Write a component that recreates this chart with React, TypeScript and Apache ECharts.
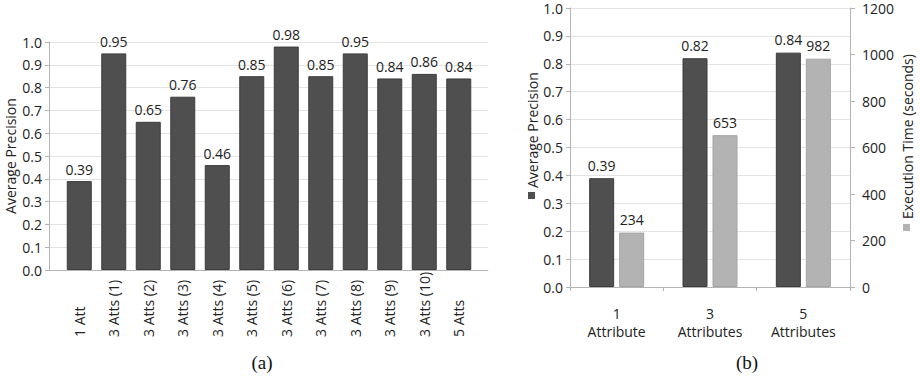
import React, { useEffect, useRef } from 'react';
import * as echarts from 'echarts';

const leftCategories = ['1 Att', '3 Atts (1)', '3 Atts (2)', '3 Atts (3)', '3 Atts (4)', '3 Atts (5)', '3 Atts (6)', '3 Atts (7)', '3 Atts (8)', '3 Atts (9)', '3 Atts (10)', '5 Atts'];
const leftPrecision = [0.39, 0.95, 0.65, 0.76, 0.46, 0.85, 0.98, 0.85, 0.95, 0.84, 0.86, 0.84];

const rightCategories = ['1\nAttribute', '3\nAttributes', '5\nAttributes'];
const rightPrecision = [0.39, 0.82, 0.84];
const rightTime = [234, 653, 982];

const precisionMin = 0;
const precisionMax = 1;
const precisionStep = 0.1;
const timeMin = 0;
const timeMax = 1200;
const timeStep = 200;

const FONT = '"Open Sans", "DejaVu Sans", sans-serif';
const SERIF = '"Liberation Serif", "DejaVu Serif", serif';
const DARK = '#4f4f4f';
const LIGHT = '#b3b3b3';
const AXIS = '#b4b4b4';
const GRID = '#e4e4e4';
const TXT = '#222222';

export default function App() {
  const ref = useRef<HTMLDivElement>(null);
  useEffect(() => {
    if (!ref.current) return;
    const chart = echarts.init(ref.current, undefined, { renderer: 'svg' });
    const valueLabel = { show: true, position: 'top', distance: 5, fontSize: 14, color: TXT, fontFamily: FONT };
    const vTitle = (text: string, x: number, yBottom: number) => ({
      type: 'text', x, y: yBottom, rotation: Math.PI / 2,
      style: { text, font: '14px "Open Sans", sans-serif', fill: TXT, align: 'left', verticalAlign: 'middle' },
    });
    chart.setOption({
      animation: false,
      backgroundColor: '#ffffff',
      textStyle: { fontFamily: FONT },
      grid: [
        { left: 49, top: 42, width: 439, height: 228 },
        { left: 62, top: 42, width: 414, height: 228 },
        { left: 570, top: 8, width: 280, height: 279 },
      ],
      xAxis: [
        {
          gridIndex: 0, type: 'category', data: leftCategories,
          axisLine: { show: true, lineStyle: { color: AXIS } },
          axisTick: { show: false }, axisLabel: { show: false }, splitLine: { show: false },
        },
        {
          gridIndex: 1, type: 'category', data: leftCategories,
          axisLine: { show: false }, axisTick: { show: false },
          axisLabel: { rotate: 90, align: 'left', margin: 67, fontSize: 14, color: TXT, fontFamily: FONT, interval: 0 },
        },
        {
          gridIndex: 2, type: 'category', data: rightCategories,
          axisLine: { show: true, lineStyle: { color: AXIS } },
          axisTick: { show: true, length: 4, lineStyle: { color: AXIS } },
          axisLabel: { margin: 17, fontSize: 14, lineHeight: 18, color: TXT, fontFamily: FONT, interval: 0 },
        },
      ],
      yAxis: [
        {
          gridIndex: 0, type: 'value', min: precisionMin, max: precisionMax, interval: precisionStep,
          name: 'Average Precision', nameLocation: 'middle', nameRotate: 90, nameGap: 32,
          nameTextStyle: { fontSize: 14, color: TXT, fontFamily: FONT },
          axisLine: { show: true, lineStyle: { color: AXIS } },
          axisTick: { show: true, length: 4, lineStyle: { color: AXIS } },
          axisLabel: { formatter: (v: number) => v.toFixed(1), fontSize: 14, color: TXT, margin: 7, fontFamily: FONT },
          splitLine: { show: true, lineStyle: { color: GRID } },
        },
        { gridIndex: 1, type: 'value', min: precisionMin, max: precisionMax, show: false },
        {
          gridIndex: 2, type: 'value', min: precisionMin, max: precisionMax, interval: precisionStep,
          axisLine: { show: true, lineStyle: { color: AXIS } },
          axisTick: { show: true, length: 4, lineStyle: { color: AXIS } },
          axisLabel: { formatter: (v: number) => v.toFixed(1), fontSize: 14, color: TXT, margin: 7, fontFamily: FONT },
          splitLine: { show: true, lineStyle: { color: GRID } },
        },
        {
          gridIndex: 2, type: 'value', position: 'right', min: timeMin, max: timeMax, interval: timeStep,
          axisLine: { show: true, lineStyle: { color: AXIS } },
          axisTick: { show: true, length: 5, lineStyle: { color: AXIS } },
          axisLabel: { formatter: (v: number) => String(v), fontSize: 14, color: TXT, margin: 12, fontFamily: FONT },
          splitLine: { show: false },
        },
      ],
      series: [
        {
          type: 'bar', xAxisIndex: 1, yAxisIndex: 1, data: leftPrecision, barWidth: 25,
          itemStyle: { color: DARK, borderColor: '#3c3c3c', borderWidth: 1 },
          label: { ...valueLabel, formatter: (p: any) => Number(p.value).toFixed(2) },
        },
        {
          type: 'bar', xAxisIndex: 2, yAxisIndex: 2, data: rightPrecision, barWidth: 25, barGap: '20%',
          itemStyle: { color: DARK, borderColor: '#3c3c3c', borderWidth: 1 },
          label: { ...valueLabel, distance: 6, formatter: (p: any) => Number(p.value).toFixed(2) },
        },
        {
          type: 'bar', xAxisIndex: 2, yAxisIndex: 3, data: rightTime, barWidth: 25, barGap: '20%',
          itemStyle: { color: LIGHT, borderColor: '#a4a4a4', borderWidth: 1 },
          label: { ...valueLabel, distance: 6, formatter: (p: any) => String(p.value) },
        },
      ],
      graphic: [
        { type: 'rect', shape: { x: 528, y: 192, width: 7, height: 7 }, style: { fill: DARK } },
        vTitle('Average Precision', 532, 188),
        { type: 'rect', shape: { x: 903, y: 224, width: 7, height: 7 }, style: { fill: LIGHT } },
        vTitle('Execution Time (seconds)', 907, 219),
        { type: 'text', x: 262, y: 362, style: { text: '(a)', fontSize: 19, fontFamily: SERIF, fill: '#111', align: 'center', verticalAlign: 'middle' } },
        { type: 'text', x: 747, y: 362, style: { text: '(b)', fontSize: 19, fontFamily: SERIF, fill: '#111', align: 'center', verticalAlign: 'middle' } },
      ],
    });
    return () => chart.dispose();
  }, []);
  return <div ref={ref} style={{ position: 'fixed', left: 0, top: 0, width: 920, height: 377 }} />;
}
